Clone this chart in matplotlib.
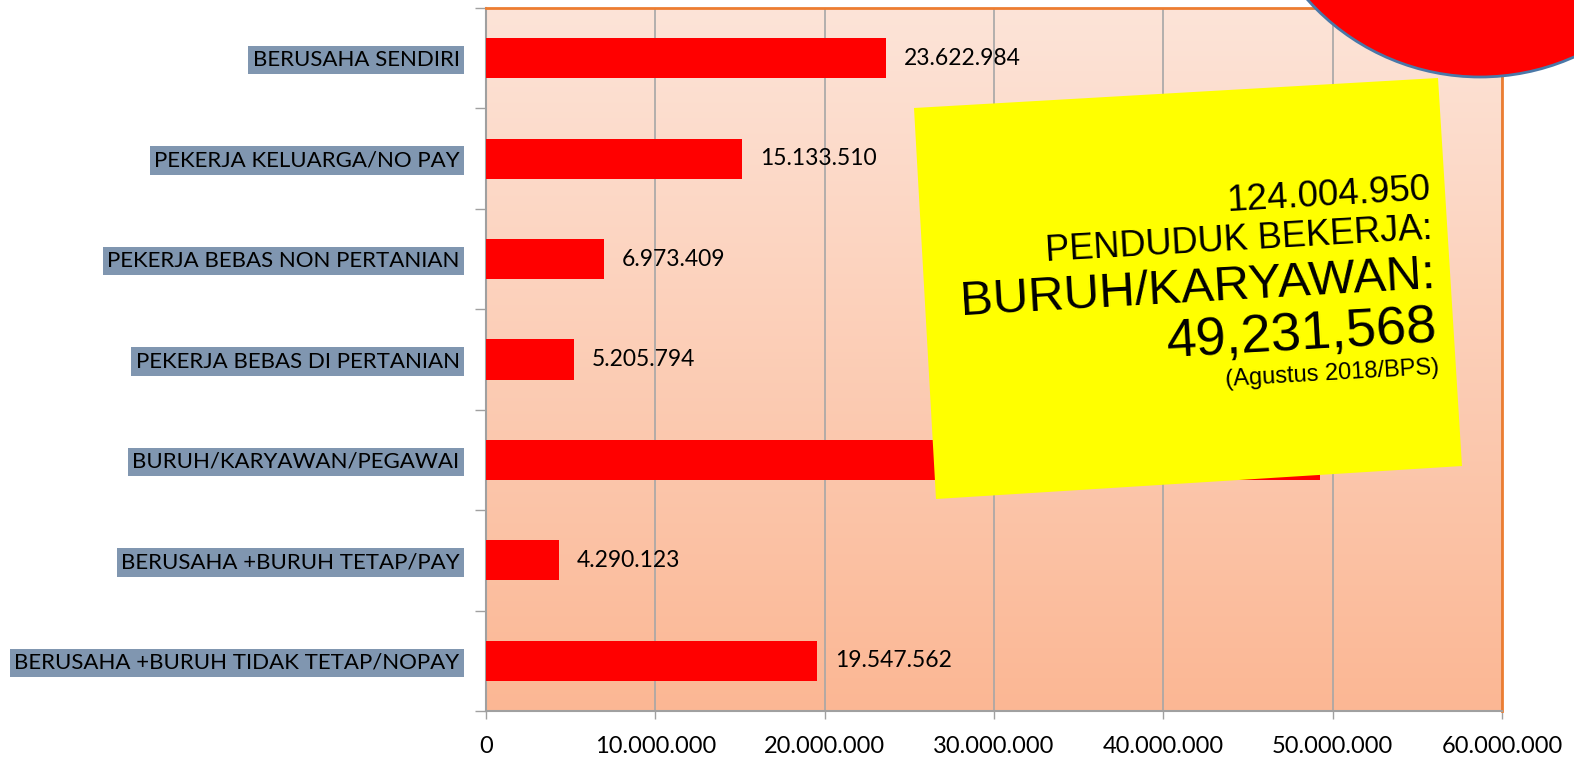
import numpy as np
import matplotlib.pyplot as plt
from matplotlib.patches import Ellipse, Polygon

categories = ["BERUSAHA SENDIRI", "PEKERJA KELUARGA/NO PAY", "PEKERJA BEBAS NON PERTANIAN",
              "PEKERJA BEBAS DI PERTANIAN", "BURUH/KARYAWAN/PEGAWAI",
              "BERUSAHA +BURUH TETAP/PAY", "BERUSAHA +BURUH TIDAK TETAP/NOPAY"]
values = [23622984, 15133510, 6973409, 5205794, 49231568, 4290123, 19547562]
xticks = [0, 10000000, 20000000, 30000000, 40000000, 50000000, 60000000]

def fmt(v):
    return "{:,}".format(v).replace(",", ".")

plt.rcParams['font.family'] = ['Lato', 'DejaVu Sans']

fig = plt.figure(figsize=(15.74, 7.57), dpi=100)
ax = fig.add_axes([486/1574, 1-711/757, (1502-486)/1574, 703/757])

# gradient background
grad = np.linspace(0, 1, 256).reshape(-1, 1)
top = np.array([253, 228, 216]) / 255
bot = np.array([251, 183, 148]) / 255
img = top + (bot - top) * grad[..., None]
ax.imshow(img, extent=[0, 60000000, 6.5, -0.5], aspect='auto', zorder=0)

y = np.arange(len(categories))
ax.barh(y, values, height=0.4, color='#ff0000', zorder=3)
ax.set_xlim(0, 60000000)
ax.set_ylim(6.5, -0.5)

for i, v in enumerate(values):
    ax.text(v + 1050000, i, fmt(v), va='center', ha='left', fontsize=16.5, zorder=4)

ax.set_xticks(xticks)
ax.set_xticklabels([fmt(t) for t in xticks], fontsize=17)
ax.xaxis.grid(True, color='#a6a6a6', linewidth=1.2, zorder=1)
ax.set_axisbelow(True)
ax.tick_params(axis='x', length=6, width=1, color='#a0a0a0', pad=12)

ax.set_yticks(y)
ax.set_yticklabels(categories, fontsize=16)
ax.set_yticks(np.arange(-0.5, 6.6, 1), minor=True)
ax.tick_params(axis='y', which='major', length=0, pad=19)
ax.tick_params(axis='y', which='minor', length=8, width=1, color='#a0a0a0')
for lab in ax.get_yticklabels():
    lab.set_bbox(dict(facecolor='#8096b0', edgecolor='none', pad=3))

for s in ['top', 'right']:
    ax.spines[s].set_color('#ed7d31')
    ax.spines[s].set_linewidth(2)
for s in ['left', 'bottom']:
    ax.spines[s].set_color('#a0a0a0')
    ax.spines[s].set_linewidth(1.5)

# overlay for the note and the circle
ov = fig.add_axes([0, 0, 1, 1], zorder=10)
ov.set_xlim(0, 1574)
ov.set_ylim(757, 0)
ov.axis('off')
ov.patch.set_alpha(0)

ov.add_patch(Ellipse((1480, -154), 462, 462, facecolor='#ff0000', edgecolor='#4a78a8', linewidth=2))
ov.add_patch(Polygon([(914, 108), (1438, 78), (1462, 466), (936, 499)], closed=True,
                     facecolor='#ffff00', edgecolor='none'))

rot = 3.3
# text, right end x, baseline y, size
note = [("124.004.950", 1431, 199, 26.5),
        ("PENDUDUK BEKERJA:", 1433, 239, 26),
        ("BURUH/KARYAWAN:", 1436, 288, 35.5),
        ("49,231,568", 1438, 341, 39),
        ("(Agustus 2018/BPS)", 1439, 374, 17)]
for txt, x0, y0, fs in note:
    ov.text(x0, y0, txt, ha='right', va='baseline', rotation=rot, rotation_mode='anchor',
            fontsize=fs, family='Liberation Sans', color='black')

fig.savefig('out.png', dpi=100)
